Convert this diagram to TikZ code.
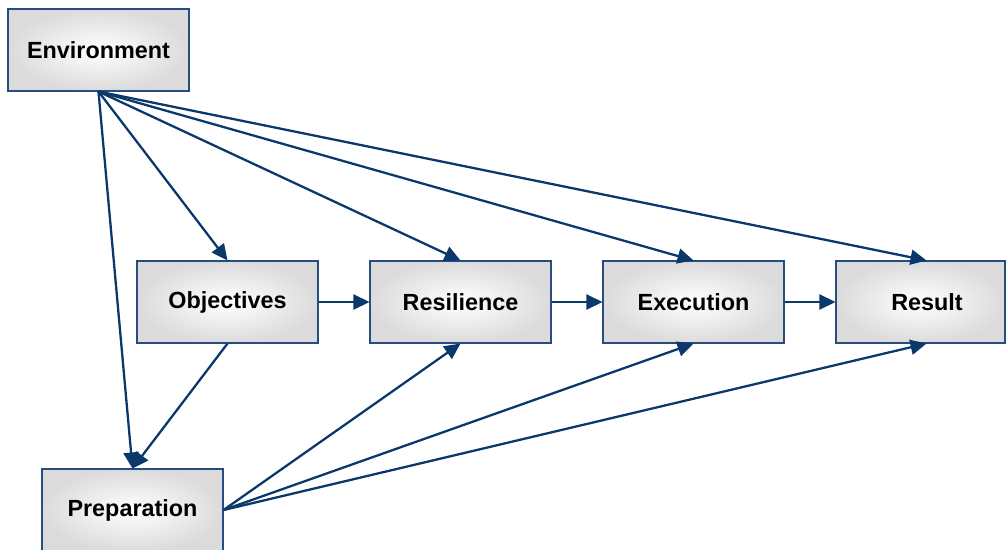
\documentclass[tikz,border=0pt]{standalone}
\usepackage{fontspec}
\setmainfont{Liberation Sans}
\usetikzlibrary{arrows.meta,shadows}
\definecolor{arrowblue}{rgb}{0.04, 0.22, 0.42}
\definecolor{boxedge}{rgb}{0.15, 0.30, 0.50}

\begin{document}
\begin{tikzpicture}[
  box/.style={draw=boxedge, line width=0.6pt, shading=radial,
    inner color=white, outer color=gray!28,
    drop shadow={shadow xshift=0.6pt, shadow yshift=-0.6pt, fill=gray!70, opacity=0.8},
    minimum width=3.62cm, minimum height=1.64cm, inner sep=0pt,
    font=\fontsize{13.3}{15}\selectfont\bfseries},
  link/.style={arrowblue, line width=1.3pt, -{Triangle[length=3.2mm, width=3.0mm]}}]
\useasboundingbox (0,0) rectangle (20.12,-11.0);
\draw (1.97,-1.0) node (env) [box] {Environment};
\draw (4.55,-6.04) node (obj) [box] {Objectives};
\draw (9.21,-6.04) node (res) [box] {Resilience};
\draw (13.87,-6.04) node (exe) [box] {Execution};
\draw (18.41,-6.04) node (out) [box, minimum width=3.38cm] {\hspace*{0.26cm}Result};
\draw (2.65,-10.2) node (prep) [box] {Preparation};
% from the environment
\draw[link] (env.south)--(obj.north);
\draw[link] (env.south)--(res.north);
\draw[link] (env.south)--(exe.north);
\draw[link] (env.south)--([xshift=0.12cm]out.north);
\draw[link] (env.south)--(prep.north);
% the chain
\draw[link] (obj)--(res);
\draw[link] (res)--(exe);
\draw[link] (exe)--(out);
% from the preparation
\draw[link] (obj.south)--(prep.north);
\draw[link] (prep.east)--(res.south);
\draw[link] (prep.east)--(exe.south);
\draw[link] (prep.east)--([xshift=0.12cm]out.south);
\end{tikzpicture}
\end{document}
